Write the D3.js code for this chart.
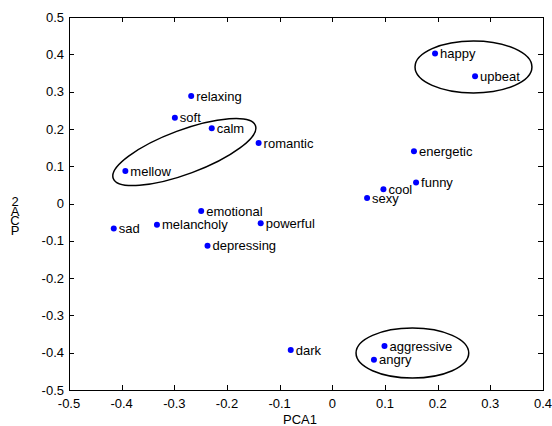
<!DOCTYPE html>
<html>
<head>
<meta charset="utf-8">
<script src="https://cdn.jsdelivr.net/npm/d3@7"></script>
<style>
  body { margin: 0; background: #fff; }
  svg text { font-family: "Liberation Sans", Arial, Helvetica, sans-serif; font-size: 13px; fill: #000; }
  .ytitle { writing-mode: vertical-rl; text-orientation: upright; letter-spacing: -5.3px; }
</style>
</head>
<body>
<svg id="chart"></svg>
<script>
// words and their PCA coordinates
const words = ['happy', 'upbeat', 'energetic', 'funny', 'cool', 'sexy', 'aggressive', 'angry',
               'relaxing', 'soft', 'calm', 'romantic', 'mellow', 'emotional', 'powerful',
               'depressing', 'melancholy', 'sad', 'dark'];
const pca1 = [0.195, 0.271, 0.155, 0.159, 0.097, 0.066, 0.099, 0.079,
              -0.268, -0.299, -0.229, -0.140, -0.393, -0.249, -0.136,
              -0.237, -0.333, -0.415, -0.079];
const pca2 = [0.402, 0.341, 0.140, 0.056, 0.038, 0.015, -0.382, -0.419,
              0.288, 0.230, 0.202, 0.162, 0.087, -0.020, -0.053,
              -0.113, -0.057, -0.067, -0.393];

const xTicks = [-0.5, -0.4, -0.3, -0.2, -0.1, 0, 0.1, 0.2, 0.3, 0.4];
const xTickLabels = ['-0.5', '-0.4', '-0.3', '-0.2', '-0.1', '0', '0.1', '0.2', '0.3', '0.4'];
const yTicks = [-0.5, -0.4, -0.3, -0.2, -0.1, 0, 0.1, 0.2, 0.3, 0.4, 0.5];
const yTickLabels = ['-0.5', '-0.4', '-0.3', '-0.2', '-0.1', '0', '0.1', '0.2', '0.3', '0.4', '0.5'];

// grouping ellipses: centre and radii in data units, tilt in degrees
const ellCx = [-0.281, 0.268, 0.152];
const ellCy = [0.138, 0.366, -0.401];
const ellRx = [0.144, 0.111, 0.107];
const ellRy = [0.059, 0.0696, 0.067];
const ellTilt = [-20.4, 0, 0];

const W = 552, H = 426;
const plotL = 69, plotR = 543, plotT = 17, plotB = 390;

const svg = d3.select('#chart').attr('width', W).attr('height', H);
svg.append('rect').attr('width', W).attr('height', H).attr('fill', '#fff');

const xs = d3.scaleLinear().domain([-0.5, 0.4]).range([plotL, plotR]);
const ys = d3.scaleLinear().domain([-0.5, 0.5]).range([plotB, plotT]);

// ellipses
const pxPerX = xs(1) - xs(0), pxPerY = ys(0) - ys(1);
svg.selectAll('.ell').data(ellCx).enter().append('ellipse')
    .attr('class', 'ell')
    .attr('cx', 0).attr('cy', 0)
    .attr('rx', (d, i) => ellRx[i] * pxPerX)
    .attr('ry', (d, i) => ellRy[i] * pxPerY)
    .attr('transform', (d, i) => `translate(${xs(d)},${ys(ellCy[i])}) rotate(${ellTilt[i]})`)
    .attr('fill', 'none').attr('stroke', '#000').attr('stroke-width', 1.5);

// points and labels
const pts = words.map((w, i) => ({ w: w, x: pca1[i], y: pca2[i] }));
svg.selectAll('.dot').data(pts).enter().append('circle')
    .attr('class', 'dot')
    .attr('cx', d => xs(d.x)).attr('cy', d => ys(d.y))
    .attr('r', 3).attr('fill', '#0000ff');
svg.selectAll('.lbl').data(pts).enter().append('text')
    .attr('class', 'lbl')
    .attr('x', d => xs(d.x) + 5).attr('y', d => ys(d.y))
    .attr('dy', '0.36em')
    .text(d => d.w);

// axes box
const ax = svg.append('g').attr('stroke', '#000').attr('stroke-width', 1).attr('fill', 'none');
ax.append('rect').attr('x', plotL + 0.5).attr('y', plotT + 0.5)
    .attr('width', plotR - plotL).attr('height', plotB - plotT);

const tickLen = 5;
xTicks.forEach(t => {
    const x = Math.round(xs(t)) + 0.5;
    ax.append('line').attr('x1', x).attr('x2', x).attr('y1', plotB).attr('y2', plotB - tickLen);
    ax.append('line').attr('x1', x).attr('x2', x).attr('y1', plotT).attr('y2', plotT + tickLen);
});
yTicks.forEach(t => {
    const y = Math.round(ys(t)) + 0.5;
    ax.append('line').attr('y1', y).attr('y2', y).attr('x1', plotL).attr('x2', plotL + tickLen);
    ax.append('line').attr('y1', y).attr('y2', y).attr('x1', plotR).attr('x2', plotR - tickLen);
});

svg.selectAll('.xt').data(xTicks).enter().append('text')
    .attr('class', 'xt')
    .attr('x', d => xs(d)).attr('y', plotB + 18)
    .attr('text-anchor', 'middle')
    .text((d, i) => xTickLabels[i]);
svg.selectAll('.yt').data(yTicks).enter().append('text')
    .attr('class', 'yt')
    .attr('x', plotL - 5).attr('y', d => ys(d))
    .attr('dy', '0.36em')
    .attr('text-anchor', 'end')
    .text((d, i) => yTickLabels[i]);

// axis titles
svg.append('text').attr('x', 300).attr('y', 424).attr('text-anchor', 'middle').text('PCA1');
// the y title shows as upright characters stacked top to bottom
svg.append('text')
    .attr('class', 'ytitle')
    .attr('x', 15).attr('y', 194)
    .text('2ACP');
</script>
</body>
</html>
